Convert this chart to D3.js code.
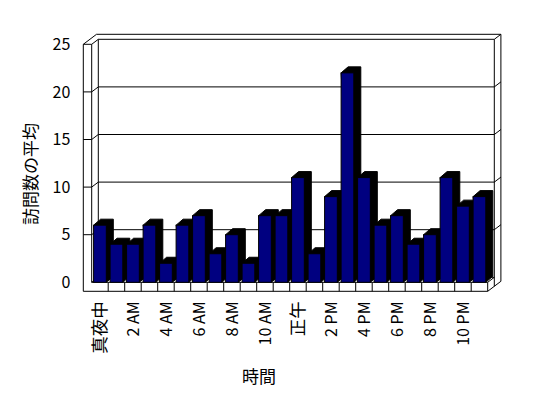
<!DOCTYPE html>
<html>
<head>
<meta charset="utf-8">
<script src="https://cdn.jsdelivr.net/npm/d3@7"></script>
<style>
  body { margin: 0; background: #fff; }
  text { font-family: "Noto Sans CJK JP", sans-serif; fill: #000; }
</style>
</head>
<body>
<div id="chart"></div>
<script>
// data
var hours = ["真夜中", "1 AM", "2 AM", "3 AM", "4 AM", "5 AM", "6 AM", "7 AM", "8 AM", "9 AM", "10 AM", "11 AM",
             "正午", "1 PM", "2 PM", "3 PM", "4 PM", "5 PM", "6 PM", "7 PM", "8 PM", "9 PM", "10 PM", "11 PM"];
var visits = [6, 4, 4, 6, 2, 6, 7, 3, 5, 2, 7, 7, 11, 3, 9, 22, 11, 6, 7, 4, 5, 11, 8, 9];
var yTicks = [0, 5, 10, 15, 20, 25];
var yTitle = "訪問数の平均";
var xTitle = "時間";

var width = 548, height = 398;
var pLeft = 91.7, pRight = 487.7, pTop = 44.3, pBottom = 282.3;
var dx = 6.6, dy = -5;      // depth step of the walls
var bdx = 7, bdy = -6;      // depth of the bars
var wallW = 8.4, floorH = 9;

var svg = d3.select("#chart").append("svg")
    .attr("width", width).attr("height", height);

var x = d3.scaleBand().domain(hours).range([pLeft, pRight])
    .paddingInner(0.23).paddingOuter(0.115);
var y = d3.scaleLinear().domain([0, 25]).range([pBottom, pTop]);

var line = function(pts) { return "M" + pts.map(function(p) { return p.join(","); }).join("L"); };
var frame = svg.append("g").attr("fill", "none").attr("stroke", "#000").attr("stroke-width", 1);

// outer silhouette of walls + floor
frame.append("path").attr("d", line([
  [pLeft - wallW, pTop], [pLeft - wallW + 2 * dx, pTop + 2 * dy], [pRight + 2 * dx, pTop + 2 * dy],
  [pRight + 2 * dx, pBottom + floorH + 2 * dy], [pRight, pBottom + floorH],
  [pLeft - wallW, pBottom + floorH]]) + "Z");

// left wall front face + top
frame.append("path").attr("d", line([[pLeft - wallW, pTop], [pLeft, pTop], [pLeft, pBottom]]));
frame.append("path").attr("d", line([[pLeft, pTop], [pLeft + dx, pTop + dy]]));
// back wall inner face
frame.append("path").attr("d", line([[pLeft + dx, pBottom + dy], [pLeft + dx, pTop + dy], [pRight + dx, pTop + dy],
  [pRight + dx, pBottom + floorH + dy]]));
frame.append("path").attr("d", line([[pRight + dx, pTop + dy], [pRight + 2 * dx, pTop + 2 * dy]]));

// gridlines
yTicks.filter(function(v) { return v > 0 && v < 25; }).forEach(function(v) {
  var yy = y(v);
  frame.append("path").attr("d", line([[pLeft - wallW, yy], [pLeft, yy], [pLeft + dx, yy + dy],
    [pRight + dx, yy + dy], [pRight + 2 * dx, yy + 2 * dy]]));
});
frame.append("path").attr("d", line([[pLeft, pBottom], [pLeft + dx, pBottom + dy], [pRight + dx, pBottom + dy]]));

// floor front face
frame.append("path").attr("d", line([[pLeft, pBottom], [pRight, pBottom], [pRight, pBottom + floorH]]));
frame.append("path").attr("d", line([[pRight, pBottom], [pRight + dx, pBottom + dy]]));
var step = x.step();
hours.forEach(function(h, i) {
  if (i == 0) return;
  var xx = pLeft + i * step;
  frame.append("path").attr("d", line([[xx, pBottom], [xx, pBottom + floorH]]));
});

// bars
var bars = svg.append("g").selectAll("g.bar")
    .data(hours.map(function(h, i) { return {hour: h, value: visits[i]}; }))
    .enter().append("g").attr("class", "bar");

bars.append("path")
    .attr("fill", "#000").attr("stroke", "#000")
    .attr("d", function(d) {
      var x0 = x(d.hour), w = x.bandwidth(), yt = y(d.value);
      return line([[x0, yt], [x0 + bdx, yt + bdy], [x0 + w + bdx, yt + bdy],
                   [x0 + w + bdx, pBottom + bdy], [x0 + w, pBottom]]) + "Z";
    });
bars.append("rect")
    .attr("x", function(d) { return x(d.hour); })
    .attr("y", function(d) { return y(d.value); })
    .attr("width", x.bandwidth())
    .attr("height", function(d) { return pBottom - y(d.value); })
    .attr("fill", "#000080").attr("stroke", "#000");

// y axis labels
var yAxis = svg.append("g")
    .attr("transform", "translate(" + (pLeft - wallW) + ",0)")
    .call(d3.axisLeft(y).tickValues(yTicks).tickSize(0).tickPadding(13));
yAxis.select(".domain").remove();
yAxis.attr("font-family", null).attr("font-size", 16).attr("fill", "#000");

// x axis labels
var xAxis = svg.append("g")
    .attr("transform", "translate(0," + (pBottom + floorH) + ")")
    .call(d3.axisBottom(x).tickValues(hours.filter(function(d, i) { return i % 2 == 0; })).tickSize(0));
xAxis.select(".domain").remove();
xAxis.attr("font-family", null).attr("font-size", 16).attr("fill", "#000");
xAxis.selectAll("text")
    .attr("transform", "rotate(-90)")
    .attr("x", -10).attr("y", 0).attr("dy", "0.35em")
    .attr("text-anchor", "end")
    .attr("fill", "#000")
    .attr("font-size", function(d) { return /^[\x00-\x7f]*$/.test(d) ? 16 : 17.5; });

// titles
svg.append("text")
    .attr("transform", "translate(29,174) rotate(-90)")
    .attr("text-anchor", "middle").attr("dominant-baseline", "central")
    .attr("font-size", 17).text(yTitle);
svg.append("text")
    .attr("x", 259).attr("y", 375)
    .attr("text-anchor", "middle").attr("dominant-baseline", "central")
    .attr("font-size", 17).text(xTitle);
</script>
</body>
</html>
